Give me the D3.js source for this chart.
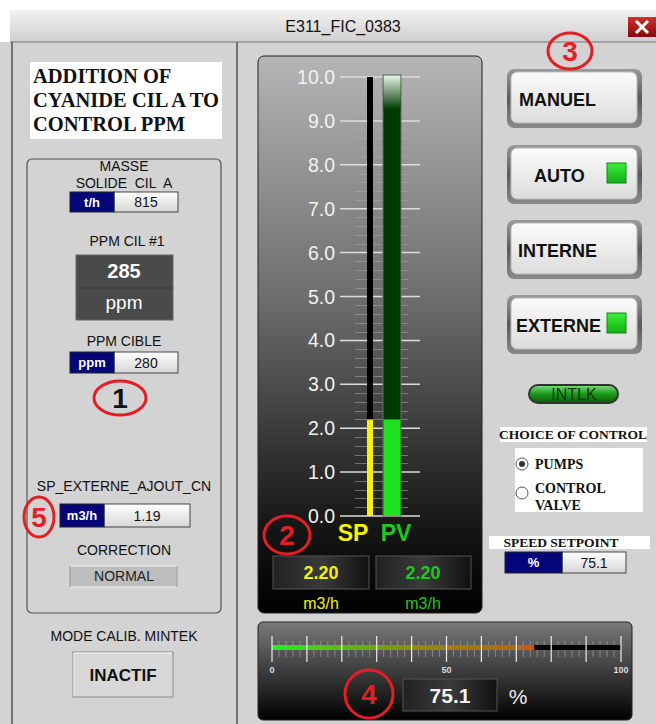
<!DOCTYPE html>
<html>
<head>
<meta charset="utf-8">
<script src="https://cdn.jsdelivr.net/npm/d3@7"></script>
<style>
  body { margin: 0; background: #fff; }
  text { font-family: "Liberation Sans", Arial, sans-serif; white-space: pre; }
</style>
</head>
<body>
<script>
// faceplate values
var tagName = "E311_FIC_0383";
var titleLines = ["ADDITION OF", "CYANIDE CIL A TO", "CONTROL PPM"];
var masseSolide = 815;
var ppmCil = 285;
var ppmCible = 280;
var spExterne = 1.19;
var spValue = 2.20;
var pvValue = 2.20;
var speedSetpoint = 75.1;
var barTicks = [0, 1, 2, 3, 4, 5, 6, 7, 8, 9, 10];
var speedTicks = [0, 10, 20, 30, 40, 50, 60, 70, 80, 90, 100];
var speedLabels = [0, 50, 100];
var modeButtons = ["MANUEL", "AUTO", "INTERNE", "EXTERNE"];
var modeActive = [false, true, false, true];
var controlChoices = ["PUMPS", "CONTROL|VALVE"];

var W = 656, H = 724;
var svg = d3.select("body").append("svg").attr("width", W).attr("height", H);
var defs = svg.append("defs");

function linGrad(id, stops, x1, y1, x2, y2) {
  var g = defs.append("linearGradient").attr("id", id)
    .attr("x1", x1 || 0).attr("y1", y1 || 0).attr("x2", x2 || 0).attr("y2", y2 === undefined ? 1 : y2);
  stops.forEach(function(s) { g.append("stop").attr("offset", s[0]).attr("stop-color", s[1]); });
  return g;
}
linGrad("titleG", [[0, "#f2f2f2"], [1, "#cfcfcf"]]);
linGrad("closeG", [[0, "#d03030"], [1, "#8a0808"]]);
linGrad("barPanelG", [[0, "#b5b5b5"], [0.45, "#6a6a6a"], [0.85, "#151515"], [1, "#000"]]);
linGrad("gaugePanelG", [[0, "#7a7a7a"], [1, "#000"]]);
linGrad("fieldG", [[0, "#ffffff"], [1, "#d6d6d6"]]);
linGrad("btnOuterG", [[0, "#9a9a9a"], [0.5, "#5a5a5a"], [1, "#8a8a8a"]]);
linGrad("btnInnerG", [[0, "#fbfbfb"], [1, "#dcdcdc"]]);
linGrad("pvTopG", [[0, "#e8f4e8"], [1, "#013a01"]]);
linGrad("intlkG", [[0, "#7fe07f"], [0.5, "#1a9a1a"], [1, "#0a5a0a"]]);
linGrad("ledG", [[0, "#3cf03c"], [1, "#10b010"]]);
linGrad("boxG", [[0, "#222"], [0.5, "#3a3a3a"], [1, "#111"]], 0, 0, 1, 0);

// window background
svg.append("rect").attr("x", 0).attr("y", 0).attr("width", W).attr("height", H).attr("fill", "#d3d3d3");
svg.append("rect").attr("x", 0).attr("y", 0).attr("width", W).attr("height", 10).attr("fill", "#fff");
svg.append("rect").attr("x", 0).attr("y", 10).attr("width", 10).attr("height", 32).attr("fill", "#fff");

// title bar
svg.append("rect").attr("x", 10).attr("y", 10).attr("width", W - 10).attr("height", 32).attr("fill", "url(#titleG)");
svg.append("line").attr("x1", 10).attr("x2", W).attr("y1", 42).attr("y2", 42).attr("stroke", "#777");
svg.append("text").attr("x", 343).attr("y", 32).attr("text-anchor", "middle")
  .attr("font-size", 16).attr("fill", "#111").text(tagName);
svg.append("rect").attr("x", 628).attr("y", 17).attr("width", 28).attr("height", 20).attr("fill", "url(#closeG)");
svg.append("path").attr("d", "M636,21 L648,33 M648,21 L636,33").attr("stroke", "#fff").attr("stroke-width", 3);

// left panel borders
svg.append("line").attr("x1", 12).attr("x2", 12).attr("y1", 42).attr("y2", H).attr("stroke", "#555").attr("stroke-width", 1.5);
svg.append("line").attr("x1", 237).attr("x2", 237).attr("y1", 42).attr("y2", H).attr("stroke", "#555").attr("stroke-width", 1.5);

// title white box
svg.append("rect").attr("x", 30).attr("y", 62).attr("width", 192).attr("height", 77).attr("fill", "#fff");
svg.selectAll(".tl").data(titleLines).enter().append("text")
  .attr("x", 33).attr("y", function(d, i) { return 83 + i * 24; })
  .style("font-family", "'Liberation Serif', 'Times New Roman', serif")
  .attr("font-weight", "bold").attr("font-size", 20.5).attr("fill", "#111").text(function(d) { return d; });

// inner rounded group box
svg.append("rect").attr("x", 27).attr("y", 159).attr("width", 194).attr("height", 454).attr("rx", 5)
  .attr("fill", "none").attr("stroke", "#555").attr("stroke-width", 1.2);

function label(x, y, t, size, weight, anchor, color) {
  return svg.append("text").attr("x", x).attr("y", y).attr("text-anchor", anchor || "middle")
    .attr("font-size", size || 14).attr("font-weight", weight || "normal").attr("fill", color || "#111").text(t);
}

function field(x, y, w, unitW, h, unit, value) {
  svg.append("rect").attr("x", x + unitW).attr("y", y).attr("width", w - unitW).attr("height", h)
    .attr("fill", "url(#fieldG)").attr("stroke", "#444");
  svg.append("rect").attr("x", x).attr("y", y).attr("width", unitW).attr("height", h)
    .attr("fill", "#05057a").attr("stroke", "#222");
  label(x + unitW / 2, y + h / 2 + 4.5, unit, 13, "bold", "middle", "#fff");
  label(x + unitW + (w - unitW) / 2, y + h / 2 + 5, value, 14, "normal", "middle", "#111");
}

label(124, 171, "MASSE", 14);
label(124, 188, "SOLIDE  CIL  A", 14);
field(70, 192, 108, 44, 20, "t/h", masseSolide);

label(127, 246, "PPM CIL #1", 14);
svg.append("rect").attr("x", 76).attr("y", 255).attr("width", 97).attr("height", 65).attr("fill", "#4a4a4a").attr("stroke", "#666");
svg.append("line").attr("x1", 76).attr("x2", 173).attr("y1", 288).attr("y2", 288).attr("stroke", "#3a3a3a");
label(124, 278, ppmCil, 20, "bold", "middle", "#fff");
label(124, 309, "ppm", 19, "normal", "middle", "#fff");

label(124, 346, "PPM CIBLE", 14);
field(70, 352, 108, 44, 21, "ppm", ppmCible);

label(124, 491, "SP_EXTERNE_AJOUT_CN", 14);
field(60, 504, 130, 44, 23, "m3/h", spExterne.toFixed(2));

label(124, 555, "CORRECTION", 14);
svg.append("rect").attr("x", 70).attr("y", 566).attr("width", 107).attr("height", 21).attr("fill", "#bdbdbd")
  .attr("stroke", "#eee").attr("stroke-width", 1);
svg.append("rect").attr("x", 70).attr("y", 566).attr("width", 107).attr("height", 21).attr("fill", "none")
  .attr("stroke", "#888").attr("stroke-dasharray", "0,107,21,107,21");
label(124, 581, "NORMAL", 14, "normal", "middle", "#222");

label(124, 641, "MODE CALIB. MINTEK", 14);
svg.append("rect").attr("x", 73).attr("y", 652).attr("width", 100).attr("height", 45).attr("fill", "#d8d8d8")
  .attr("stroke", "#8a8a8a");
svg.append("path").attr("d", "M74,696 V653 H172").attr("fill", "none").attr("stroke", "#f4f4f4");
label(123, 681, "INACTIF", 17, "bold", "middle", "#111");

// ---- SP / PV bar graph ----
svg.append("rect").attr("x", 258).attr("y", 56).attr("width", 224).attr("height", 557).attr("rx", 6)
  .attr("fill", "url(#barPanelG)").attr("stroke", "#222");

var yScale = d3.scaleLinear().domain([0, 10]).range([516, 77]);
var minor = yScale.ticks(50).filter(function(v) { return barTicks.indexOf(Math.round(v * 10) / 10) < 0; });

svg.append("g").selectAll("line").data(minor).enter().append("line")
  .attr("x1", 355).attr("x2", 408).attr("y1", function(d) { return Math.round(yScale(d)) + 0.5; })
  .attr("y2", function(d) { return Math.round(yScale(d)) + 0.5; })
  .attr("stroke", "#aaa").attr("stroke-opacity", 0.55).attr("stroke-width", 1);

var majG = svg.append("g");
majG.selectAll("line").data(barTicks).enter().append("line")
  .attr("x1", 340).attr("x2", 420).attr("y1", function(d) { return yScale(d); }).attr("y2", function(d) { return yScale(d); })
  .attr("stroke", "#ddd").attr("stroke-width", 1.5);
majG.selectAll("text").data(barTicks).enter().append("text")
  .attr("x", 335).attr("y", function(d) { return yScale(d) + 7; }).attr("text-anchor", "end")
  .attr("font-size", 19.5).attr("fill", "#f2f2f2").text(function(d) { return d3.format(".1f")(d); });

// SP bar
svg.append("rect").attr("x", 367).attr("y", yScale(10)).attr("width", 6).attr("height", yScale(0) - yScale(10)).attr("fill", "#000");
svg.append("rect").attr("x", 367).attr("y", yScale(spValue)).attr("width", 6).attr("height", yScale(0) - yScale(spValue)).attr("fill", "#f5f010");
// PV bar
svg.append("rect").attr("x", 383).attr("y", yScale(10) - 2).attr("width", 18).attr("height", yScale(0) - yScale(10) + 2)
  .attr("fill", "#013a01").attr("stroke", "#6a6a6a").attr("stroke-width", 1);
svg.append("rect").attr("x", 383.5).attr("y", yScale(10) - 1.5).attr("width", 17).attr("height", 34).attr("fill", "url(#pvTopG)");
svg.append("rect").attr("x", 383.5).attr("y", yScale(pvValue)).attr("width", 17).attr("height", yScale(0) - yScale(pvValue)).attr("fill", "#1ee01e");

label(353, 541, "SP", 23, "bold", "middle", "#f5f010");
label(396, 541, "PV", 23, "bold", "middle", "#1ec81e");

svg.append("rect").attr("x", 273).attr("y", 556).attr("width", 96).attr("height", 33).attr("fill", "url(#boxG)").attr("stroke", "#555");
svg.append("rect").attr("x", 376).attr("y", 556).attr("width", 95).attr("height", 33).attr("fill", "url(#boxG)").attr("stroke", "#555");
label(321, 579, spValue.toFixed(2), 18, "bold", "middle", "#f5f010");
label(423, 579, pvValue.toFixed(2), 18, "bold", "middle", "#1ec81e");
label(321, 609, "m3/h", 16, "normal", "middle", "#f5f010");
label(423, 609, "m3/h", 16, "normal", "middle", "#1ec81e");

// ---- speed gauge ----
svg.append("rect").attr("x", 258).attr("y", 622).attr("width", 374).attr("height", 98).attr("rx", 5)
  .attr("fill", "url(#gaugePanelG)").attr("stroke", "#222");
var xScale = d3.scaleLinear().domain([0, 100]).range([272, 621]);
var spdGrad = defs.append("linearGradient").attr("id", "spdG").attr("gradientUnits", "userSpaceOnUse")
  .attr("x1", xScale(0)).attr("x2", xScale(speedSetpoint)).attr("y1", 0).attr("y2", 0);
[[0, "#22ee22"], [0.45, "#7a9a10"], [1, "#c85a10"]].forEach(function(s) {
  spdGrad.append("stop").attr("offset", s[0]).attr("stop-color", s[1]);
});
var sMinor = d3.range(0, 101, 2).filter(function(v) { return v % 10 !== 0; });
svg.append("g").selectAll("line").data(sMinor).enter().append("line")
  .attr("x1", function(d) { return xScale(d); }).attr("x2", function(d) { return xScale(d); })
  .attr("y1", 641).attr("y2", 657).attr("stroke", "#bbb").attr("stroke-opacity", 0.5);
svg.append("rect").attr("x", xScale(0)).attr("y", 645).attr("width", xScale(100) - xScale(0)).attr("height", 5).attr("fill", "#000");
svg.append("rect").attr("x", xScale(0)).attr("y", 645).attr("width", xScale(speedSetpoint) - xScale(0)).attr("height", 5).attr("fill", "url(#spdG)");
svg.append("g").selectAll("line").data(speedTicks).enter().append("line")
  .attr("x1", function(d) { return xScale(d); }).attr("x2", function(d) { return xScale(d); })
  .attr("y1", 636).attr("y2", 662).attr("stroke", "#eee").attr("stroke-width", 1.2);
svg.append("g").selectAll("text").data(speedLabels).enter().append("text")
  .attr("x", function(d) { return xScale(d); }).attr("y", 673).attr("text-anchor", "middle")
  .attr("font-size", 9).attr("font-weight", "bold").attr("fill", "#ddd").text(function(d) { return d; });
svg.append("rect").attr("x", 403).attr("y", 679).attr("width", 94).attr("height", 32).attr("fill", "url(#boxG)").attr("stroke", "#555");
label(450, 703, speedSetpoint.toFixed(1), 21, "bold", "middle", "#f4f4f4");
label(518, 704, "%", 21, "normal", "middle", "#eee");

// ---- mode buttons ----
var btnY = [69, 145, 220, 295];
var btnTextX = [519, 534, 518, 516];
modeButtons.forEach(function(b, i) {
  var y = btnY[i];
  svg.append("rect").attr("x", 507).attr("y", y).attr("width", 135).attr("height", 59).attr("rx", 7).attr("fill", "url(#btnOuterG)");
  svg.append("rect").attr("x", 511).attr("y", y + 3).attr("width", 126).attr("height", 51).attr("rx", 6)
    .attr("fill", "url(#btnInnerG)").attr("stroke", "#bbb");
  label(btnTextX[i], y + 37, b, 18, "bold", "start", "#111");
  if (modeActive[i]) {
    svg.append("rect").attr("x", 607).attr("y", y + 18).attr("width", 19).attr("height", 20)
      .attr("fill", "url(#ledG)").attr("stroke", "#1a801a");
  }
});

// interlock pill
svg.append("rect").attr("x", 529).attr("y", 385).attr("width", 89).attr("height", 18).attr("rx", 9)
  .attr("fill", "url(#intlkG)").attr("stroke", "#333").attr("stroke-width", 2);
label(574, 400, "INTLK", 16, "normal", "middle", "#0a3a0a");

// choice of control
var serif = "'Liberation Serif', 'Times New Roman', serif";
svg.append("rect").attr("x", 500).attr("y", 427).attr("width", 147).attr("height", 15).attr("fill", "#fff");
label(573, 439, "CHOICE OF CONTROL", 13.5, "bold", "middle", "#111").style("font-family", serif);
svg.append("rect").attr("x", 515).attr("y", 448).attr("width", 128).attr("height", 64).attr("fill", "#fff");
controlChoices.forEach(function(c, i) {
  var cy = i === 0 ? 464 : 493;
  svg.append("circle").attr("cx", 522).attr("cy", cy).attr("r", 6).attr("fill", "#fff").attr("stroke", "#555");
  if (i === 0) svg.append("circle").attr("cx", 522).attr("cy", cy).attr("r", 3).attr("fill", "#333");
  c.split("|").forEach(function(part, j) {
    label(535, (i === 0 ? 469 : 493) + j * 17, part, 14, "bold", "start", "#111").style("font-family", serif);
  });
});

svg.append("rect").attr("x", 489).attr("y", 536).attr("width", 161).attr("height", 13).attr("fill", "#fff");
label(561, 547, "SPEED SETPOINT", 13.5, "bold", "middle", "#111").style("font-family", serif);
field(505, 552, 121, 57, 21, "%", speedSetpoint.toFixed(1));

// ---- red annotation marks ----
function mark(cx, cy, rx, ry, n, color) {
  svg.append("ellipse").attr("cx", cx).attr("cy", cy).attr("rx", rx).attr("ry", ry)
    .attr("fill", "none").attr("stroke", "#e31e24").attr("stroke-width", 3);
  label(cx, cy + 10, n, 28, "bold", "middle", color || "#e31e24");
}
mark(120, 398, 26, 17, "1", "#111");
mark(287, 535, 23, 19, "2");
mark(570, 51, 22, 18, "3");
mark(369, 694, 24, 24, "4");
mark(39, 517, 15, 20, "5");
</script>
</body>
</html>
